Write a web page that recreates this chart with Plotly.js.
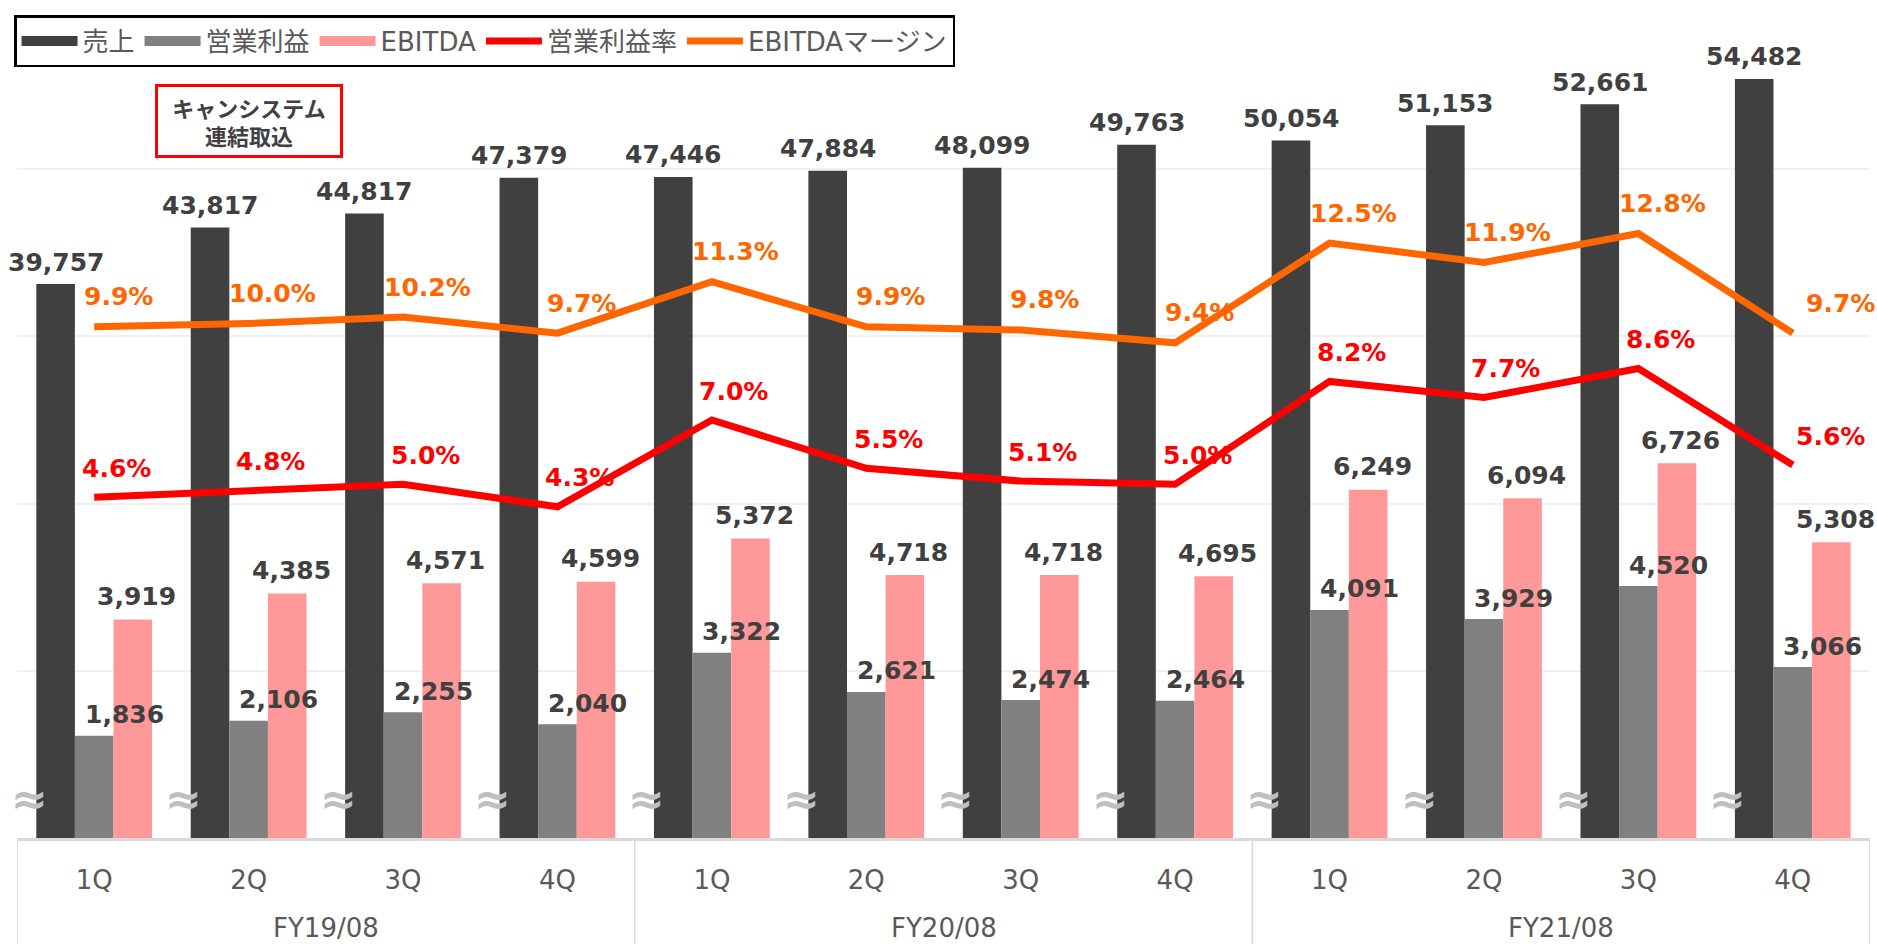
<!DOCTYPE html>
<html><head><meta charset="utf-8">
<script src="https://cdn.plot.ly/plotly-3.0.1.min.js"></script>
<style>html,body{margin:0;padding:0;background:#fff;} #chart{width:1877px;height:944px;}</style>
</head><body><div id="chart"></div>
<script>
// ---- data ----
const fiscalYears = ['FY19/08', 'FY20/08', 'FY21/08'];
const quarters = ['1Q', '2Q', '3Q', '4Q'];
const sales = [39757, 43817, 44817, 47379, 47446, 47884, 48099, 49763, 50054, 51153, 52661, 54482];
const operatingProfit = [1836, 2106, 2255, 2040, 3322, 2621, 2474, 2464, 4091, 3929, 4520, 3066];
const ebitda = [3919, 4385, 4571, 4599, 5372, 4718, 4718, 4695, 6249, 6094, 6726, 5308];
const operatingMargin = [4.6, 4.8, 5.0, 4.3, 7.0, 5.5, 5.1, 5.0, 8.2, 7.7, 8.6, 5.6];
const ebitdaMargin = [9.9, 10.0, 10.2, 9.7, 11.3, 9.9, 9.8, 9.4, 12.5, 11.9, 12.8, 9.7];
const seriesNames = ['売上', '営業利益', 'EBITDA', '営業利益率', 'EBITDAマージン'];
const noteText = 'キャンシステム<br>連結取込';

// ---- styles ----
const C = {sales: '#404040', op: '#808080', ebitda: '#ff9999', opm: '#ff0000', em: '#ff6600',
           label: '#404040', axis: '#595959', grid: '#f0f0f0', line: '#d9d9d9', squiggle: '#bfbfbf'};
const FONT = 'DejaVu Sans, Noto Sans CJK JP, sans-serif';
const BW = 0.25;

const idx = sales.map((_, i) => i);
const tickText = fiscalYears.flatMap(() => quarters);
const fmt = v => v.toLocaleString('en-US');
const pct = v => v.toFixed(1) + '%';

const barColors = [C.sales, C.op, C.ebitda];
// legend stand-ins for the bar series (wide swatches like the original legend)
const legendSwatches = barColors.map((col, k) => ({
  type: 'scatter', mode: 'lines', name: seriesNames[k], x: [null], y: [null], legendgroup: 'g' + k,
  line: {color: col, width: 15}, hoverinfo: 'skip'
}));

const traces = legendSwatches.concat([
  {type: 'bar', name: seriesNames[0], x: idx, y: sales, yaxis: 'y', width: BW, offset: -1.5 * BW,
   marker: {color: C.sales}, showlegend: false, legendgroup: 'g0'},
  {type: 'bar', name: seriesNames[1], x: idx, y: operatingProfit, yaxis: 'y2', width: BW, offset: -0.5 * BW,
   marker: {color: C.op}, showlegend: false, legendgroup: 'g1'},
  {type: 'bar', name: seriesNames[2], x: idx, y: ebitda, yaxis: 'y2', width: BW, offset: 0.5 * BW,
   marker: {color: C.ebitda}, showlegend: false, legendgroup: 'g2'},
  {type: 'scatter', mode: 'lines', name: seriesNames[3], x: idx, y: operatingMargin, yaxis: 'y3',
   line: {color: C.opm, width: 7}},
  {type: 'scatter', mode: 'lines', name: seriesNames[4], x: idx, y: ebitdaMargin, yaxis: 'y3',
   line: {color: C.em, width: 7}}
]);

const labelFont = (color) => ({family: FONT, size: 25, color: color, weight: 'bold'});
const ann = [];
const last = idx.length - 1;
idx.forEach(i => {
  ann.push({x: i - BW, y: sales[i], xref: 'x', yref: 'y', text: fmt(sales[i]), showarrow: false,
            xanchor: 'center', yanchor: 'middle', yshift: 22, font: labelFont(C.label)});
  ann.push({x: i, y: operatingProfit[i], xref: 'x', yref: 'y2', text: fmt(operatingProfit[i]), showarrow: false,
            xanchor: 'center', yanchor: 'middle', xshift: 30, yshift: 21, font: labelFont(C.label)});
  ann.push({x: i + BW, y: ebitda[i], xref: 'x', yref: 'y2', text: fmt(ebitda[i]), showarrow: false,
            xanchor: 'center', yanchor: 'middle', xshift: 4, yshift: 23, font: labelFont(C.label)});
  ann.push({x: i, y: operatingMargin[i], xref: 'x', yref: 'y3', text: pct(operatingMargin[i]), showarrow: false,
            xanchor: 'center', yanchor: 'middle', xshift: i === last ? 38 : 22, yshift: 29, font: labelFont(C.opm)});
  ann.push({x: i, y: ebitdaMargin[i], xref: 'x', yref: 'y3', text: pct(ebitdaMargin[i]), showarrow: false,
            xanchor: 'center', yanchor: 'middle', xshift: i === last ? 48 : 24, yshift: 30, font: labelFont(C.em)});
  ann.push({x: i - 1.5 * BW, y: 0.047, xref: 'x', yref: 'paper', text: '≈', showarrow: false,
            xanchor: 'center', yanchor: 'middle', xshift: -7,
            font: {family: 'DejaVu Sans', size: 44, color: C.squiggle, weight: 'bold'}});
});
fiscalYears.forEach((fy, g) => {
  ann.push({x: g * quarters.length + (quarters.length - 1) / 2, y: -0.108, xref: 'x', yref: 'paper',
            text: fy, showarrow: false, xanchor: 'center', yanchor: 'middle',
            font: {family: FONT, size: 26, color: C.axis}});
});
ann.push({x: 0.1252, y: 0.858, xref: 'paper', yref: 'paper', text: noteText, showarrow: false,
          xanchor: 'center', yanchor: 'middle', width: 178, height: 64, borderpad: 2,
          bordercolor: '#ff0000', borderwidth: 3, bgcolor: '#ffffff',
          font: {family: 'Noto Sans CJK JP', size: 22, color: C.label, weight: 'bold'}});

const shapes = [];
for (let g = 0; g <= fiscalYears.length; g++) {
  const xv = g * quarters.length - 0.5;
  shapes.push({type: 'line', xref: 'x', yref: 'paper', x0: xv, x1: xv, y0: 0, y1: -0.2,
               line: {color: C.line, width: 1.5}});
}

const layout = {
  width: 1877, height: 944,
  margin: {l: 17, r: 7, t: 2, b: 106},
  paper_bgcolor: '#ffffff', plot_bgcolor: '#ffffff',
  barmode: 'overlay',
  showlegend: true,
  font: {family: FONT, color: C.axis},
  xaxis: {range: [-0.5, 11.5], tickmode: 'array', tickvals: idx, ticktext: tickText,
          showgrid: false, zeroline: false, showline: true, linecolor: C.line, linewidth: 3,
          ticks: '', ticklabelstandoff: 17, tickfont: {family: FONT, size: 26, color: C.axis}},
  yaxis: {range: [0, 60000], tick0: 0, dtick: 12000, showgrid: true, gridcolor: C.grid, gridwidth: 2,
          showticklabels: false, zeroline: false, ticks: ''},
  yaxis2: {overlaying: 'y', range: [0, 15000], visible: false},
  yaxis3: {overlaying: 'y', range: [-6, 20], visible: false},
  legend: {orientation: 'h', x: -0.0016, xanchor: 'left', y: 0.9844, yanchor: 'top',
           bordercolor: '#000000', borderwidth: 2.5, bgcolor: '#ffffff', itemwidth: 56,
           font: {family: FONT, size: 26, color: C.axis}, traceorder: 'normal'},
  annotations: ann,
  shapes: shapes
};

Plotly.newPlot('chart', traces, layout, {staticPlot: true, displayModeBar: false});
</script>
</body></html>
